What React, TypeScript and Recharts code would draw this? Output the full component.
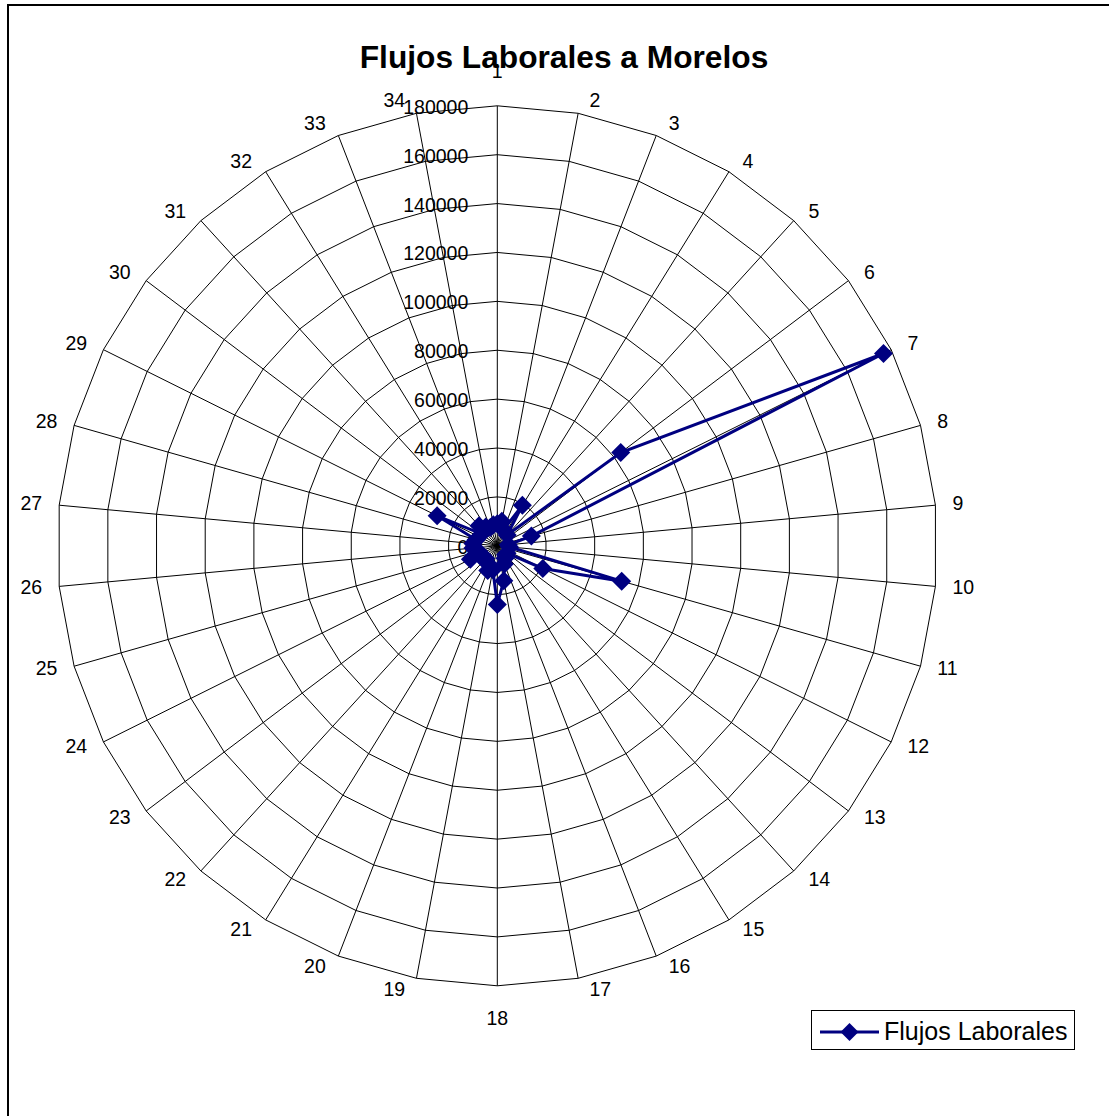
import { RadarChart, Radar, PolarGrid, PolarAngleAxis, PolarRadiusAxis, Legend } from 'recharts'

// 34 municipios, numbered around the chart
const categories = Array.from({ length: 34 }, (_, i) => String(i + 1))

const flujos = [
    9000, 10200, 7000, 19500, 6000, 63300, 176500, 14500, 4500, 5000,
    52900, 20800, 5000, 5000, 6000, 8000, 14500, 24000, 10000, 10800,
    8000, 7000, 8000, 12300, 8000, 10000, 10000, 9000, 27500, 8000,
    11100, 9000, 8000, 8800,
]

const radiusTicks = [0, 20000, 40000, 60000, 80000, 100000, 120000, 140000, 160000, 180000]

const NAVY = '#000080'
const FONT = '"Liberation Sans", Arial, sans-serif'
const CX = 497.3
const CY = 545.8
const R = 440

const data = categories.map((c, i) => ({ cat: c, flujos: flujos[i] }))

// excel-like label placement: beside the vertex, not on the ray
function AngleTick(props: any) {
    const { payload } = props
    const t = ((90 - payload.coordinate) * Math.PI) / 180
    const s = Math.sin(t)
    const c = Math.cos(t)
    const vx = CX + R * s
    const vy = CY - R * c
    let x = vx
    let y = vy
    let anchor: 'start' | 'end' | 'middle' = 'middle'
    if (Math.abs(s) < 0.01) {
        y = vy + (c > 0 ? -35 : 32)
    } else {
        const gap = 10 + 7 * Math.abs(s)
        x = s > 0 ? vx + gap : vx - gap
        anchor = s > 0 ? 'start' : 'end'
        y = vy - 12 * c - 1
    }
    return (
        <text x={x} y={y} textAnchor={anchor} dominantBaseline="central" fontSize={19.5} fontFamily={FONT} fill="#000">
            {payload.value}
        </text>
    )
}

function RadiusTick(props: any) {
    const { x, y, payload } = props
    return (
        <text x={x - 29} y={y + 1} textAnchor="end" dominantBaseline="central" fontSize={19.5} fontFamily={FONT} fill="#000">
            {payload.value}
        </text>
    )
}

function Diamond(props: any) {
    const { cx, cy, index } = props
    const s = 9.5
    return <path key={`d-${index}`} d={`M${cx},${cy - s}L${cx + s},${cy}L${cx},${cy + s}L${cx - s},${cy}Z`} fill={NAVY} />
}

function LegendBox() {
    return (
        <div
            style={{
                width: 262,
                height: 38,
                border: '1px solid #000',
                background: '#fff',
                display: 'flex',
                alignItems: 'center',
                fontFamily: FONT,
                fontSize: 25,
                color: '#000',
            }}
        >
            <svg width={72} height={38}>
                <line x1={8} y1={21} x2={67} y2={21} stroke={NAVY} strokeWidth={3} />
                <path d="M37.5,12L46.5,21L37.5,30L28.5,21Z" fill={NAVY} />
            </svg>
            <span style={{ marginTop: 2, whiteSpace: 'nowrap' }}>Flujos Laborales</span>
        </div>
    )
}

export default function App() {
    return (
        <div style={{ position: 'absolute', left: 0, top: 0, width: 1109, height: 1116, overflow: 'hidden', background: '#fff' }}>
            <div style={{ position: 'absolute', left: 7, top: 4, width: 1300, height: 1300, border: '2px solid #000' }} />
            <div
                style={{
                    position: 'absolute',
                    left: 564 - 300,
                    top: 39,
                    width: 600,
                    textAlign: 'center',
                    fontFamily: FONT,
                    fontWeight: 'bold',
                    fontSize: 31.7,
                    lineHeight: '36px',
                }}
            >
                Flujos Laborales a Morelos
            </div>
            <div style={{ position: 'absolute', left: 0, top: 0 }}>
                <RadarChart width={1109} height={1116} data={data} cx={CX} cy={CY} outerRadius={R} margin={{ top: 0, right: 0, bottom: 0, left: 0 }}>
                    <PolarGrid gridType="polygon" stroke="#000" strokeOpacity={1} strokeWidth={1} />
                    <PolarAngleAxis dataKey="cat" tick={<AngleTick />} tickLine={false} axisLine={false} />
                    <PolarRadiusAxis
                        angle={90}
                        domain={[0, 180000]}
                        ticks={radiusTicks as any}
                        tickCount={10}
                        axisLine={false}
                        tick={<RadiusTick />}
                    />
                    <Radar
                        name="Flujos Laborales"
                        dataKey="flujos"
                        stroke={NAVY}
                        strokeWidth={3}
                        fill="none"
                        fillOpacity={0}
                        dot={<Diamond />}
                        isAnimationActive={false}
                    />
                    <Legend
                        content={() => <LegendBox />}
                        wrapperStyle={{ position: 'absolute', left: 811, top: 1010, width: 'auto' }}
                    />
                </RadarChart>
            </div>
        </div>
    )
}
